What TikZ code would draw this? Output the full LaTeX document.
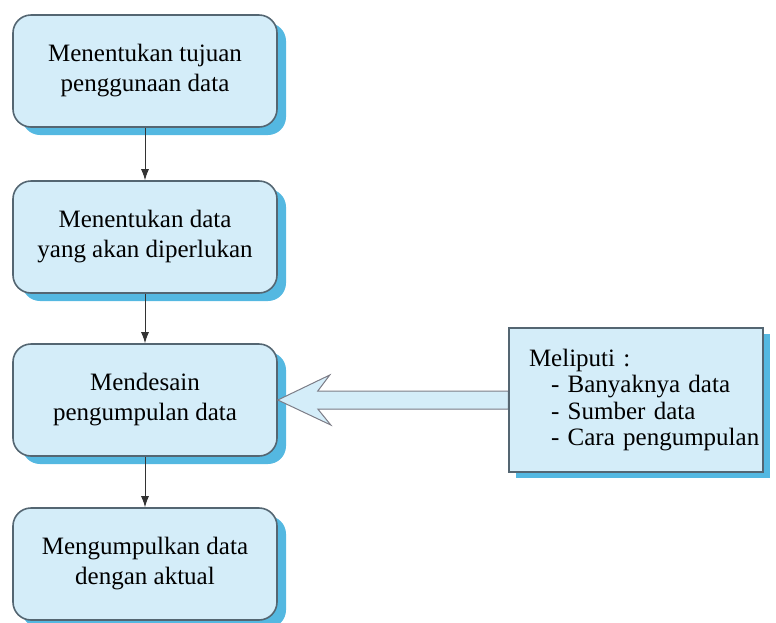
\documentclass[tikz,border=0pt]{standalone}
\usepackage{fontspec}
\setmainfont{Liberation Serif}
\usetikzlibrary{shadows,arrows.meta,calc}
\definecolor{boxfill}{RGB}{212,237,249}
\definecolor{boxline}{RGB}{84,102,114}
\definecolor{shadeblue}{RGB}{84,184,225}
\definecolor{arrowline}{RGB}{125,125,135}
\tikzset{
  stepbox/.style={rectangle, rounded corners=18pt, draw=boxline, line width=1.6pt,
    fill=boxfill, minimum width=264pt, minimum height=112pt, align=center,
    font=\fontsize{25}{30}\selectfont,
    general shadow={fill=shadeblue, shadow xshift=9pt, shadow yshift=-8pt}},
  notebox/.style={rectangle, draw=boxline, line width=1.4pt, fill=boxfill,
    minimum width=254pt, minimum height=144pt, align=left, inner xsep=20pt,
    font=\fontsize{25}{26.5}\selectfont,
    general shadow={fill=shadeblue, shadow xshift=7pt, shadow yshift=-6pt}},
  flow/.style={draw=black!80, line width=0.9pt, -{Latex[length=11pt,width=8pt]}}
}
\begin{document}
\begin{tikzpicture}[x=1pt,y=-1pt]
\useasboundingbox (0,0) rectangle (776,622);

% process steps
\node[stepbox] (b1) at (145,71)  {Menentukan tujuan\\penggunaan data};
\node[stepbox] (b2) at (145,237) {Menentukan data\\yang akan diperlukan};
\node[stepbox] (b3) at (145,400) {Mendesain\\pengumpulan data};
\node[stepbox] (b4) at (145,564) {Mengumpulkan data\\dengan aktual};

% side note (each line kept whole in an \mbox)
\node[notebox, text width=214pt] (note) at (636,400)
  {\mbox{Meliputi :}\\
   \mbox{\hspace*{22pt}- Banyaknya data}\\
   \mbox{\hspace*{22pt}- Sumber data}\\
   \mbox{\hspace*{22pt}- Cara pengumpulan}};

% connectors between steps
\draw[flow] (b1.south) -- (b2.north);
\draw[flow] (b2.south) -- (b3.north);
\draw[flow] (b3.south) -- (b4.north);

% hollow block arrow from the note to the design step
\coordinate (tip) at (b3.east);
\coordinate (tail) at (note.west);
\def\blockarrow{
  ($(tip)+(0,0)$) -- ($(tip)+(52,-25)$) -- ($(tip)+(40,-9)$) --
  ($(tail|-tip)+(0,-9)$) -- ($(tail|-tip)+(0,9)$) --
  ($(tip)+(40,9)$) -- ($(tip)+(53,25)$) -- cycle}
\fill[shadeblue, shift={(6,7)}] \blockarrow;
\filldraw[fill=boxfill, draw=arrowline, line width=1pt, line join=miter] \blockarrow;
\draw[boxline, line width=1.4pt] (note.north west) -- (note.south west);
\end{tikzpicture}
\end{document}
